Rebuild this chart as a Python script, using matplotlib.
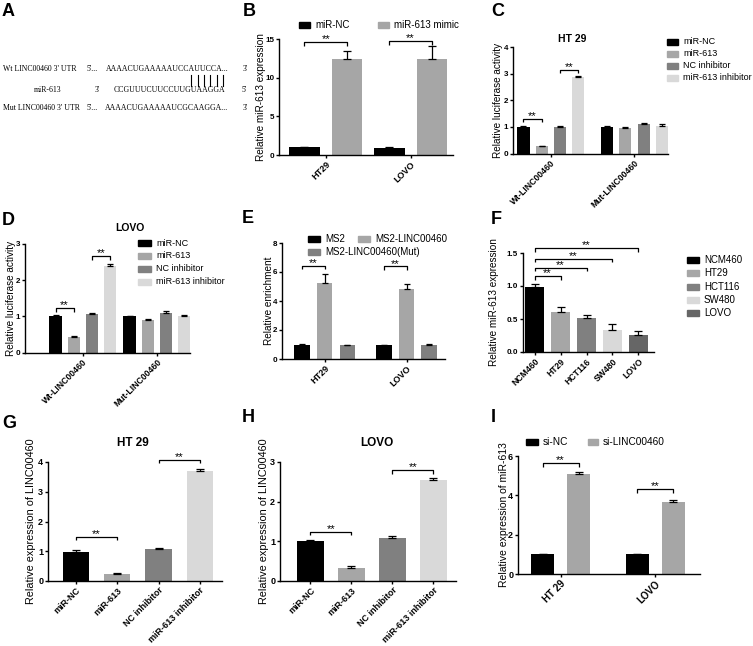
import matplotlib
matplotlib.use("Agg")
import matplotlib.pyplot as plt
from matplotlib.patches import Rectangle
import numpy as np

plt.rcParams['font.family'] = ['Liberation Sans', 'DejaVu Sans']

# ---------------- data ----------------
b_groups = ['HT29', 'LOVO']
b_nc = [1.0, 0.95]; b_nc_err = [0.05, 0.06]
b_mimic = [12.35, 12.35]; b_mimic_err = [1.1, 1.7]
b_sig = [14.6, 14.7]

c_groups = ['Wt-LINC00460', 'Mut-LINC00460']
c_mirnc = [1.0, 0.98]; c_mirnc_err = [0.05, 0.05]
c_mir613 = [0.27, 0.95]; c_mir613_err = [0.02, 0.05]
c_ncinh = [1.0, 1.1]; c_ncinh_err = [0.05, 0.06]
c_inh = [2.87, 1.03]; c_inh_err = [0.04, 0.06]
c_sig = [1.3, 3.15]

d_groups = ['Wt-LINC00460', 'Mut-LINC00460']
d_mirnc = [1.0, 1.0]; d_mirnc_err = [0.04, 0.02]
d_mir613 = [0.42, 0.9]; d_mir613_err = [0.05, 0.04]
d_ncinh = [1.06, 1.09]; d_ncinh_err = [0.03, 0.06]
d_inh = [2.38, 1.01]; d_inh_err = [0.07, 0.04]
d_sig = [1.23, 2.66]

e_groups = ['HT29', 'LOVO']
e_ms2 = [1.0, 0.97]; e_ms2_err = [0.03, 0.03]
e_linc = [5.25, 4.85]; e_linc_err = [0.6, 0.3]
e_mut = [0.97, 1.0]; e_mut_err = [0.03, 0.02]
e_sig = [6.42, 6.38]

f_cats = ['NCM460', 'HT29', 'HCT116', 'SW480', 'LOVO']
f_vals = [0.98, 0.61, 0.51, 0.33, 0.26]
f_err = [0.05, 0.07, 0.05, 0.1, 0.06]
f_sig = [1.15, 1.28, 1.41, 1.57]

g_cats = ['miR-NC', 'miR-613', 'NC inhibitor', 'miR-613 inhibitor']
g_vals = [0.98, 0.23, 1.07, 3.7]
g_err = [0.05, 0.04, 0.05, 0.06]
g_sig = [1.48, 4.08]

h_cats = ['miR-NC', 'miR-613', 'NC inhibitor', 'miR-613 inhibitor']
h_vals = [1.0, 0.34, 1.09, 2.55]
h_err = [0.04, 0.03, 0.05, 0.04]
h_sig = [1.24, 2.79]

i_groups = ['HT 29', 'LOVO']
i_nc = [1.0, 1.0]; i_nc_err = [0.03, 0.03]
i_si = [5.1, 3.68]; i_si_err = [0.08, 0.1]
i_sig = [5.63, 4.3]

# ---------------- colours ----------------
BLACK = '#000000'
LG = '#a6a6a6'
DG = '#808080'
VLG = '#d9d9d9'
DDG = '#666666'

W, H = 753, 646
fig = plt.figure(figsize=(W / 100, H / 100), dpi=100)


def add_ax(l, t, r, b):
    return fig.add_axes([l / W, 1 - b / H, (r - l) / W, (b - t) / H])


def fx(x):
    return x / W


def fy(y):
    return 1 - y / H


def style(ax, yticks, xlim, ylabel, lab_px, left_px, right_px, fmt=None,
          tsize=5.8, lsize=7.2):
    ax.set_ylim(yticks[0], yticks[-1])
    ax.set_xlim(*xlim)
    ax.set_yticks(yticks)
    if fmt:
        ax.set_yticklabels([fmt.format(v) for v in yticks])
    for s in ['top', 'right']:
        ax.spines[s].set_visible(False)
    for s in ['left', 'bottom']:
        ax.spines[s].set_linewidth(1.0)
    ax.tick_params(axis='both', direction='out', length=2.5, width=1.0,
                   labelsize=tsize, pad=1.0)
    for lab in ax.get_yticklabels():
        lab.set_fontweight('bold')
    ax.set_ylabel(ylabel, fontsize=lsize)
    # lab_px is the wanted centre of the label; shift to its right edge
    ax.yaxis.set_label_coords((lab_px + 4 - left_px) / (right_px - left_px), 0.5)


def xlabels(ax, ticks, labels, size=6.5):
    ax.set_xticks(ticks)
    ax.set_xticklabels(labels, rotation=45, ha='right', rotation_mode='anchor',
                       fontsize=size, fontweight='bold')


def bracket(ax, x1, x2, y, hpx=3.5):
    bb = ax.get_position()
    hpx_ax = bb.height * H
    y0, y1 = ax.get_ylim()
    dy = hpx * (y1 - y0) / hpx_ax
    ax.plot([x1, x1, x2, x2], [y - dy, y, y, y - dy], color='k', lw=0.9,
            clip_on=False, solid_capstyle='butt')
    ax.text((x1 + x2) / 2, y - dy * 0.6, '**', ha='center', va='bottom',
            fontsize=8, clip_on=False)


def bars(ax, x, vals, errs, width, color, cap):
    ax.bar(x, vals, width, color=color, edgecolor='none', zorder=2)
    ax.errorbar(x, vals, yerr=[np.zeros(len(vals)), errs], fmt='none',
                ecolor='k', elinewidth=0.9, capsize=cap, capthick=0.9, zorder=3)


def legend_item(xp, yp, color, label, w=11, h=6, size=6.8, gap=5):
    fig.add_artist(Rectangle((fx(xp), fy(yp + h / 2)), w / W, h / H,
                             transform=fig.transFigure, color=color))
    fig.text(fx(xp + w + gap), fy(yp), label, fontsize=size, va='center',
             ha='left')


def panel_letter(xp, yp, s):
    fig.text(fx(xp), fy(yp), s, fontsize=13, fontweight='bold', va='center',
             ha='left')


# ---------------- Panel A ----------------
panel_letter(2, 11, 'A')
serif = ['Liberation Serif', 'DejaVu Serif']
fsA = 5.6
fig.text(fx(3), fy(69), "Wt LINC00460 3' UTR", family=serif, fontsize=fsA, va='center')
fig.text(fx(87), fy(69), "5'...", family=serif, fontsize=fsA, va='center')
fig.text(fx(106), fy(69), "AAAACUGAAAAAUCCAUUCCA...", family=serif, fontsize=fsA, va='center')
fig.text(fx(243), fy(69), "3'", family=serif, fontsize=fsA, va='center')
fig.text(fx(48), fy(90), "miR-613", family=serif, fontsize=fsA, va='center', ha='center')
fig.text(fx(95), fy(90), "3'", family=serif, fontsize=fsA, va='center')
fig.text(fx(114), fy(90), "CCGUUUCUUCCUUGUAAGGA", family=serif, fontsize=fsA, va='center')
fig.text(fx(242), fy(90), "5'", family=serif, fontsize=fsA, va='center')
fig.text(fx(3), fy(108), "Mut LINC00460 3' UTR", family=serif, fontsize=fsA, va='center')
fig.text(fx(87), fy(108), "5'...", family=serif, fontsize=fsA, va='center')
fig.text(fx(105), fy(108), "AAAACUGAAAAAUCGCAAGGA...", family=serif, fontsize=fsA, va='center')
fig.text(fx(243), fy(108), "3'", family=serif, fontsize=fsA, va='center')
for xb in [191, 197.5, 204, 210.5, 217, 223]:
    fig.add_artist(plt.Line2D([fx(xb), fx(xb)], [fy(75), fy(86)],
                              transform=fig.transFigure, color='k', lw=0.8))

# ---------------- Panel B ----------------
panel_letter(243, 11, 'B')
axB = add_ax(279, 39, 453, 155)
xg = np.arange(len(b_groups))
bars(axB, xg - 0.25, b_nc, b_nc_err, 0.36, BLACK, 3)
bars(axB, xg + 0.25, b_mimic, b_mimic_err, 0.36, LG, 3)
style(axB, [0, 5, 10, 15], (-0.55, 1.5), 'Relative miR-613 expression', 261.5, 279, 453)
xlabels(axB, xg, b_groups)
for i, y in enumerate(b_sig):
    bracket(axB, xg[i] - 0.25, xg[i] + 0.25, y)
legend_item(299, 25, BLACK, 'miR-NC', size=7)
legend_item(378, 25, LG, 'miR-613 mimic', size=7)

# ---------------- Panel C ----------------
panel_letter(491, 11, 'C')
axC = add_ax(513, 47, 668, 153.5)
xg = np.arange(len(c_groups))
offs = np.array([-1.5, -0.5, 0.5, 1.5]) * 0.217
wC = 0.145
for o, v, e, c in zip(offs, [c_mirnc, c_mir613, c_ncinh, c_inh],
                      [c_mirnc_err, c_mir613_err, c_ncinh_err, c_inh_err],
                      [BLACK, LG, DG, VLG]):
    bars(axC, xg + o, v, e, wC, c, 2)
style(axC, [0, 1, 2, 3, 4], (-0.45, 1.4), 'Relative luciferase activity', 499, 513, 668)
xlabels(axC, xg, c_groups, size=6.2)
bracket(axC, offs[0], offs[1], c_sig[0])
bracket(axC, offs[2], offs[3], c_sig[1])
fig.text(fx(572), fy(39), 'HT 29', fontsize=7.5, fontweight='bold', ha='center', va='center')
for yy, col, lab in zip([42, 54, 66, 78], [BLACK, LG, DG, VLG],
                        ['miR-NC', 'miR-613', 'NC inhibitor', 'miR-613 inhibitor']):
    legend_item(667, yy, col, lab, size=6.5)

# ---------------- Panel D ----------------
panel_letter(2, 221, 'D')
axD = add_ax(25, 244, 190, 352.5)
xg = np.arange(len(d_groups))
offs = np.array([-1.5, -0.5, 0.5, 1.5]) * 0.245
wD = 0.165
for o, v, e, c in zip(offs, [d_mirnc, d_mir613, d_ncinh, d_inh],
                      [d_mirnc_err, d_mir613_err, d_ncinh_err, d_inh_err],
                      [BLACK, LG, DG, VLG]):
    bars(axD, xg + o, v, e, wD, c, 2)
style(axD, [0, 1, 2, 3], (-0.78, 1.45), 'Relative luciferase activity', 12, 25, 190)
xlabels(axD, xg, d_groups, size=6.2)
bracket(axD, offs[0], offs[1], d_sig[0])
bracket(axD, offs[2], offs[3], d_sig[1])
fig.text(fx(130), fy(228), 'LOVO', fontsize=7.5, fontweight='bold', ha='center', va='center')
for yy, col, lab in zip([243, 256, 269, 282], [BLACK, LG, DG, VLG],
                        ['miR-NC', 'miR-613', 'NC inhibitor', 'miR-613 inhibitor']):
    legend_item(138, yy, col, lab, w=13, size=6.5)

# ---------------- Panel E ----------------
panel_letter(242, 219, 'E')
axE = add_ax(282, 243, 445, 359)
xg = np.arange(len(e_groups))
offs = np.array([-1, 0, 1]) * 0.275
wE = 0.185
for o, v, e, c in zip(offs, [e_ms2, e_linc, e_mut], [e_ms2_err, e_linc_err, e_mut_err],
                      [BLACK, LG, DG]):
    bars(axE, xg + o, v, e, wE, c, 2.5)
style(axE, [0, 2, 4, 6, 8], (-0.52, 1.47), 'Relative enrichment', 270, 282, 445)
xlabels(axE, xg, e_groups)
for i, y in enumerate(e_sig):
    bracket(axE, xg[i] + offs[0], xg[i] + offs[1], y)
legend_item(308, 239, BLACK, 'MS2', w=12, size=7)
legend_item(358, 239, LG, 'MS2-LINC00460', w=12, size=7)
legend_item(308, 252, DG, 'MS2-LINC00460(Mut)', w=12, size=7)

# ---------------- Panel F ----------------
panel_letter(491, 220, 'F')
axF = add_ax(523, 253, 654, 352)
xf = np.arange(len(f_cats))
fcols = [BLACK, LG, DG, VLG, DDG]
axF.bar(xf, f_vals, 0.74, color=fcols, edgecolor='none', zorder=2)
axF.errorbar(xf, f_vals, yerr=[np.zeros(len(f_vals)), f_err], fmt='none',
             ecolor='k', elinewidth=0.9, capsize=3, capthick=0.9, zorder=3)
style(axF, [0, 0.5, 1.0, 1.5], (-0.45, 4.6), 'Relative miR-613 expression', 495, 523, 654,
      fmt='{:.1f}')
xlabels(axF, xf, f_cats, size=6.2)
for k, y in enumerate(f_sig):
    bracket(axF, xf[0], xf[k + 1], y)
for yy, col, lab in zip([260, 273, 287, 300, 313], fcols, f_cats):
    legend_item(687, yy, col, lab, w=12, size=7)

# ---------------- Panel G ----------------
panel_letter(2, 423, 'G')
axG = add_ax(48, 462, 222, 581)
xgg = np.arange(len(g_cats))
gcols = [BLACK, LG, DG, VLG]
axG.bar(xgg, g_vals, 0.64, color=gcols, edgecolor='none', zorder=2)
axG.errorbar(xgg, g_vals, yerr=[np.zeros(len(g_vals)), g_err], fmt='none',
             ecolor='k', elinewidth=0.9, capsize=3, capthick=0.9, zorder=3)
style(axG, [0, 1, 2, 3, 4], (-0.68, 3.54), 'Relative expression of LINC00460', 32, 48, 222,
      tsize=6.5, lsize=7.8)
xlabels(axG, xgg, g_cats, size=6.5)
bracket(axG, xgg[0], xgg[1], g_sig[0])
bracket(axG, xgg[2], xgg[3], g_sig[1])
fig.text(fx(133), fy(443), 'HT 29', fontsize=8.5, fontweight='bold', ha='center', va='center')

# ---------------- Panel H ----------------
panel_letter(242, 418, 'H')
axH = add_ax(280, 462, 456, 581)
xh = np.arange(len(h_cats))
axH.bar(xh, h_vals, 0.66, color=gcols, edgecolor='none', zorder=2)
axH.errorbar(xh, h_vals, yerr=[np.zeros(len(h_vals)), h_err], fmt='none',
             ecolor='k', elinewidth=0.9, capsize=3, capthick=0.9, zorder=3)
style(axH, [0, 1, 2, 3], (-0.74, 3.55), 'Relative expression of LINC00460', 265, 280, 456,
      tsize=6.5, lsize=7.8)
xlabels(axH, xh, h_cats, size=6.5)
bracket(axH, xh[0], xh[1], h_sig[0])
bracket(axH, xh[2], xh[3], h_sig[1])
fig.text(fx(377), fy(443), 'LOVO', fontsize=8.5, fontweight='bold', ha='center', va='center')

# ---------------- Panel I ----------------
panel_letter(491, 418, 'I')
axI = add_ax(518, 456, 700, 574)
xi = np.arange(len(i_groups))
bars(axI, xi - 0.19, i_nc, i_nc_err, 0.245, BLACK, 3)
bars(axI, xi + 0.19, i_si, i_si_err, 0.245, LG, 3)
style(axI, [0, 2, 4, 6], (-0.45, 1.47), 'Relative expression of miR-613', 505, 518, 700,
      tsize=6.5, lsize=7.5)
xlabels(axI, xi, i_groups, size=7)
for i, y in enumerate(i_sig):
    bracket(axI, xi[i] - 0.19, xi[i] + 0.19, y)
legend_item(526, 442, BLACK, 'si-NC', w=12, size=7.3)
legend_item(588, 442, LG, 'si-LINC00460', w=10, size=7.3)

fig.savefig('out.png', dpi=100)
